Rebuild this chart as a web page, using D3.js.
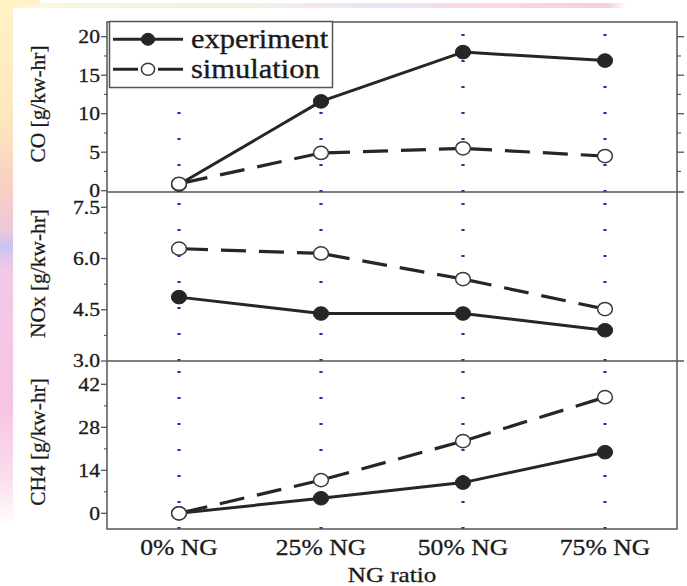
<!DOCTYPE html>
<html><head><meta charset="utf-8">
<script src="https://cdn.jsdelivr.net/npm/d3@7"></script>
<style>
html,body{margin:0;padding:0;background:#fff;}
svg text{font-family:"Liberation Serif","Times New Roman",Times,serif;}
</style></head><body>
<svg id="chart" width="687" height="586"></svg>
<script>
// ---------------- data ----------------
const categories = ["0% NG", "25% NG", "50% NG", "75% NG"];
const seriesNames = ["experiment", "simulation"];
const coExperiment = [0.8, 11.6, 18.0, 16.9];
const coSimulation = [0.9, 4.9, 5.5, 4.5];
const noxExperiment = [4.87, 4.39, 4.39, 3.90];
const noxSimulation = [6.29, 6.15, 5.40, 4.52];
const ch4Experiment = [0, 4.9, 10.0, 19.9];
const ch4Simulation = [0, 10.8, 23.5, 37.8];
const coTicks = [0, 5, 10, 15, 20];
const noxTicks = [3.0, 4.5, 6.0, 7.5];
const ch4Ticks = [0, 14, 28, 42];
const panelTitles = ["CO [g/kw-hr]", "NOx [g/kw-hr]", "CH4 [g/kw-hr]"];
const xTitle = "NG ratio";

// ---------------- layout ----------------
const W = 687, H = 586;
const plotL = 107, plotR = 677, plotT = 22;
const sepA = 192, sepB = 361, plotB = 529;
const ink = "#1a1a1a", frameCol = "#555", dotBlue = "#1f33a8";
const sx = 1.14; // horizontal stretch of the original figure

const svg = d3.select("#chart");
const defs = svg.append("defs");

function grad(id, vertical, stops) {
  const g = defs.append("linearGradient").attr("id", id)
    .attr("x1", 0).attr("y1", 0).attr("x2", vertical ? 0 : 1).attr("y2", vertical ? 1 : 0);
  stops.forEach(s => g.append("stop").attr("offset", s[0]).attr("stop-color", s[1]));
}
grad("leftBg", true, [[0, "#fff3c6"], [0.2, "#fde8bc"], [0.32, "#f8cfc2"], [0.39, "#eec7d8"],
  [0.42, "#c8c4f2"], [0.46, "#f3c7e6"], [0.7, "#f7c4e3"], [0.82, "#fbdfee"], [0.9, "#ffffff"]]);
grad("topBg", false, [[0, "#fff3c6"], [0.05, "#fff6dc"], [0.12, "#f2f5e0"], [0.35, "#eef4de"],
  [0.45, "#f9e6ee"], [0.55, "#e8e4f8"], [0.7, "#f9d9ea"], [0.9, "#f8cde5"], [0.93, "#ffffff"], [1, "#ffffff"]]);

svg.append("rect").attr("x", 0).attr("y", 0).attr("width", 40).attr("height", 8).attr("fill", "#fff3c6");
svg.append("rect").attr("x", 13).attr("y", 3).attr("width", 660).attr("height", 5).attr("fill", "url(#topBg)");
svg.append("rect").attr("x", 0).attr("y", 0).attr("width", 13).attr("height", H).attr("fill", "url(#leftBg)");

// ---------------- scales ----------------
const x = d3.scalePoint().domain(categories).range([plotL, plotR]).padding(0.507);

const panels = [
  { title: panelTitles[0], exp: coExperiment, sim: coSimulation, ticks: coTicks, fmt: d3.format("d"),
    y: d3.scaleLinear().domain([-0.169, 21.91]).range([sepA, plotT]), y0: plotT, y1: sepA, rightTicks: true },
  { title: panelTitles[1], exp: noxExperiment, sim: noxSimulation, ticks: noxTicks, fmt: d3.format(".1f"),
    y: d3.scaleLinear().domain([3.0, 7.948]).range([sepB, sepA]), y0: sepA, y1: sepB, rightTicks: false },
  { title: panelTitles[2], exp: ch4Experiment, sim: ch4Simulation, ticks: ch4Ticks, fmt: d3.format("d"),
    y: d3.scaleLinear().domain([-5.11, 49.59]).range([plotB, sepB]), y0: sepB, y1: plotB, rightTicks: false }
];

// ---------------- dotted category guides ----------------
panels.forEach(p => {
  svg.append("g").selectAll("line").data(categories).join("line")
    .attr("x1", d => x(d)).attr("x2", d => x(d))
    .attr("y1", p.y1).attr("y2", p.y0 + 4)
    .attr("stroke", dotBlue).attr("stroke-width", 3.2)
    .attr("stroke-dasharray", "2,24");
});

// ---------------- frame ----------------
svg.append("rect").attr("x", plotL).attr("y", plotT).attr("width", plotR - plotL).attr("height", plotB - plotT)
  .attr("fill", "none").attr("stroke", frameCol).attr("stroke-width", 1.5);
[sepA, sepB].forEach(yy => {
  svg.append("line").attr("x1", plotL).attr("x2", plotR + 7).attr("y1", yy).attr("y2", yy)
    .attr("stroke", frameCol).attr("stroke-width", 1.5);
});

// ---------------- axes ----------------
panels.forEach(p => {
  const minors = d3.pairs(p.ticks).map(([a, b]) => (a + b) / 2);
  const g = svg.append("g");
  g.selectAll("line.maj").data(p.ticks).join("line").attr("class", "maj")
    .attr("x1", plotL - 6).attr("x2", plotL).attr("y1", d => p.y(d)).attr("y2", d => p.y(d))
    .attr("stroke", frameCol).attr("stroke-width", 1.3);
  g.selectAll("line.min").data(minors).join("line").attr("class", "min")
    .attr("x1", plotL - 3).attr("x2", plotL).attr("y1", d => p.y(d)).attr("y2", d => p.y(d))
    .attr("stroke", frameCol).attr("stroke-width", 1.1);
  g.selectAll("text").data(p.ticks).join("text")
    .attr("transform", d => `translate(${plotL - 7},${p.y(d)}) scale(${sx},1)`)
    .attr("text-anchor", "end").attr("dy", "0.34em")
    .attr("font-size", 19).attr("fill", ink).attr("stroke", ink).attr("stroke-width", 0.3)
    .text(d => p.fmt(d));
  if (p.rightTicks) {
    g.selectAll("line.rmaj").data(p.ticks.filter(t => t > 0)).join("line").attr("class", "rmaj")
      .attr("x1", plotR).attr("x2", plotR + 7).attr("y1", d => p.y(d)).attr("y2", d => p.y(d))
      .attr("stroke", frameCol).attr("stroke-width", 1.3);
    g.selectAll("line.rmin").data(minors).join("line").attr("class", "rmin")
      .attr("x1", plotR).attr("x2", plotR + 4).attr("y1", d => p.y(d)).attr("y2", d => p.y(d))
      .attr("stroke", frameCol).attr("stroke-width", 1.1);
  }
  // panel y title
  const cy = (p.y0 + p.y1) / 2 - 3;
  svg.append("text").attr("transform", `translate(38,${cy}) rotate(-90)`)
    .attr("text-anchor", "middle").attr("dy", "0.33em")
    .attr("font-size", 21.4).attr("fill", ink).attr("stroke", ink).attr("stroke-width", 0.25)
    .text(p.title);
});

// x tick labels
svg.append("g").selectAll("text").data(categories).join("text")
  .attr("transform", d => `translate(${x(d)},547) scale(${sx},1)`)
  .attr("text-anchor", "middle").attr("dy", "0.35em")
  .attr("font-size", 22.5).attr("fill", ink).attr("stroke", ink).attr("stroke-width", 0.3)
  .text(d => d);
svg.append("text").attr("transform", `translate(${(plotL + plotR) / 2},574) scale(${sx},1)`)
  .attr("text-anchor", "middle").attr("dy", "0.35em")
  .attr("font-size", 22).attr("fill", ink).attr("stroke", ink).attr("stroke-width", 0.3)
  .text(xTitle);

// ---------------- series ----------------
const lineCol = "#262626";
panels.forEach(p => {
  const expPts = categories.map((c, i) => [x(c), p.y(p.exp[i])]);
  const simPts = categories.map((c, i) => [x(c), p.y(p.sim[i])]);
  // simulation dashed, one segment per interval so dashes restart at each marker
  svg.append("g").selectAll("line").data(d3.pairs(simPts)).join("line")
    .attr("x1", d => d[0][0]).attr("y1", d => d[0][1]).attr("x2", d => d[1][0]).attr("y2", d => d[1][1])
    .attr("stroke", lineCol).attr("stroke-width", 3.2).attr("stroke-dasharray", "25,13")
    .attr("stroke-dashoffset", -4);
  svg.append("path").attr("d", d3.line()(expPts))
    .attr("fill", "none").attr("stroke", lineCol).attr("stroke-width", 3).attr("stroke-linejoin", "round");
  svg.append("g").selectAll("ellipse").data(expPts).join("ellipse")
    .attr("cx", d => d[0]).attr("cy", d => d[1]).attr("rx", 7.6).attr("ry", 6.8)
    .attr("fill", lineCol).attr("stroke", lineCol).attr("stroke-width", 1);
  svg.append("g").selectAll("ellipse").data(simPts).join("ellipse")
    .attr("cx", d => d[0]).attr("cy", d => d[1]).attr("rx", 7.4).attr("ry", 6.6)
    .attr("fill", "#fff").attr("stroke", "#3a3a3a").attr("stroke-width", 1.5);
});

// ---------------- legend ----------------
const lg = svg.append("g");
lg.append("rect").attr("x", 109.5).attr("y", 21.5).attr("width", 223).attr("height", 66)
  .attr("fill", "#fff").attr("stroke", frameCol).attr("stroke-width", 1.5);
const rows = [{ name: seriesNames[0], y: 39.3, filled: true }, { name: seriesNames[1], y: 69.3, filled: false }];
rows.forEach(r => {
  lg.append("line").attr("x1", 113).attr("x2", 183).attr("y1", r.y).attr("y2", r.y)
    .attr("stroke", lineCol).attr("stroke-width", 3)
    .attr("stroke-dasharray", r.filled ? null : "25,20");
  lg.append("ellipse").attr("cx", 148).attr("cy", r.y).attr("rx", 6.6).attr("ry", 6)
    .attr("fill", r.filled ? lineCol : "#fff").attr("stroke", r.filled ? lineCol : "#3a3a3a")
    .attr("stroke-width", r.filled ? 1 : 1.5);
  lg.append("text").attr("transform", `translate(191,${r.y + 9}) scale(1.09,1)`)
    .attr("font-size", 28).attr("fill", ink).attr("stroke", ink).attr("stroke-width", 0.35)
    .text(r.name);
});
</script>
</body></html>
